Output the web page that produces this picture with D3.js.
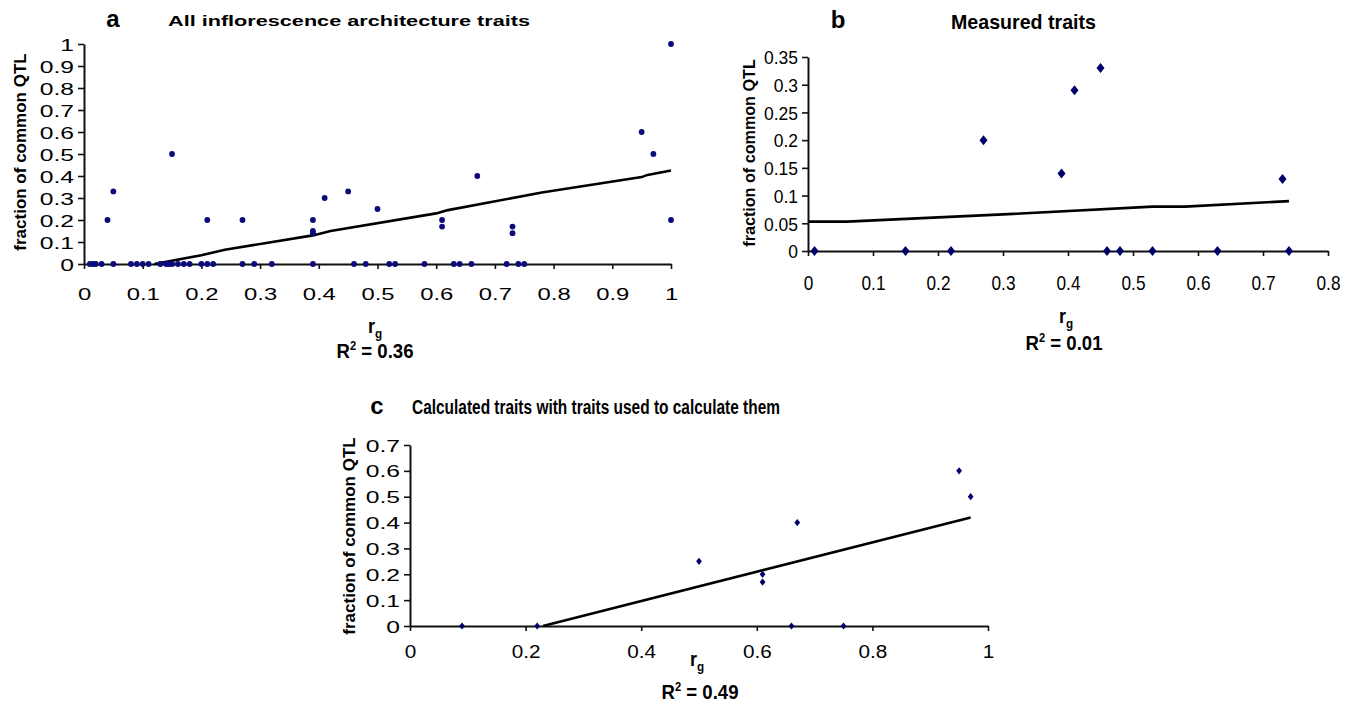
<!DOCTYPE html>
<html>
<head>
<meta charset="utf-8">
<script src="https://cdn.jsdelivr.net/npm/d3@7"></script>
<style>
  body { margin: 0; background: #fff; }
  svg { display: block; }
  text { font-family: "Liberation Sans", Arial, sans-serif; fill: #000; }
</style>
</head>
<body>
<script>
// panel a: all inflorescence architecture traits
const aRg = [0.01, 0.015, 0.02, 0.03, 0.05, 0.08, 0.09, 0.1, 0.11, 0.13, 0.14, 0.145, 0.15, 0.16, 0.17, 0.18,
  0.2, 0.21, 0.22, 0.27, 0.29, 0.32, 0.39, 0.46, 0.48, 0.52, 0.53, 0.58, 0.63, 0.64, 0.66, 0.72, 0.74, 0.75,
  0.04, 0.05, 0.15, 0.21, 0.27, 0.39, 0.39, 0.39, 0.41, 0.45, 0.5, 0.61, 0.61, 0.67, 0.73, 0.73, 0.95, 0.97, 1, 1];
const aFrac = [0, 0, 0, 0, 0, 0, 0, 0, 0, 0, 0, 0, 0, 0, 0, 0,
  0, 0, 0, 0, 0, 0, 0, 0, 0, 0, 0, 0, 0, 0, 0, 0, 0, 0,
  0.2, 0.33, 0.5, 0.2, 0.2, 0.2, 0.15, 0.14, 0.3, 0.33, 0.25, 0.2, 0.17, 0.4, 0.17, 0.14, 0.6, 0.5, 1, 0.2];
const aTrendX = [0.12, 0.2, 0.24, 0.39, 0.42, 0.6, 0.62, 0.78, 0.95, 0.96, 1.0];
const aTrendY = [0, 0.04, 0.065, 0.13, 0.15, 0.23, 0.245, 0.325, 0.395, 0.405, 0.425];
const aTicksX = [0, 0.1, 0.2, 0.3, 0.4, 0.5, 0.6, 0.7, 0.8, 0.9, 1];
const aTicksY = [0, 0.1, 0.2, 0.3, 0.4, 0.5, 0.6, 0.7, 0.8, 0.9, 1];

// panel b: measured traits
const bRg = [0.01, 0.15, 0.22, 0.27, 0.39, 0.41, 0.45, 0.46, 0.48, 0.53, 0.63, 0.73, 0.74];
const bFrac = [0, 0, 0, 0.2, 0.14, 0.29, 0.33, 0, 0, 0, 0, 0.13, 0];
const bTrendX = [0, 0.06, 0.3, 0.53, 0.58, 0.74];
const bTrendY = [0.053, 0.053, 0.066, 0.08, 0.08, 0.09];
const bTicksX = [0, 0.1, 0.2, 0.3, 0.4, 0.5, 0.6, 0.7, 0.8];
const bTicksY = [0, 0.05, 0.1, 0.15, 0.2, 0.25, 0.3, 0.35];

// panel c: calculated traits with traits used to calculate them
const cRg = [0.09, 0.22, 0.5, 0.61, 0.61, 0.66, 0.67, 0.75, 0.95, 0.97];
const cFrac = [0, 0, 0.25, 0.2, 0.17, 0, 0.4, 0, 0.6, 0.5];
const cTrendX = [0.23, 0.97];
const cTrendY = [0, 0.42];
const cTicksX = [0, 0.2, 0.4, 0.6, 0.8, 1];
const cTicksY = [0, 0.1, 0.2, 0.3, 0.4, 0.5, 0.6, 0.7];

const svg = d3.select('body').append('svg')
  .attr('width', 1350)
  .attr('height', 705);

// the source figure is stretched sideways and uses a narrow face in places,
// so squeeze / stretch text to the widths seen in it
function stretch(sel, f) {
  if (f === 1) return;
  sel.each(function() {
    const w = this.getComputedTextLength();
    d3.select(this).attr('textLength', w * f).attr('lengthAdjust', 'spacingAndGlyphs');
  });
}

function drawPanel(p) {
  const x = d3.scaleLinear().domain(p.xDomain).range([p.x0, p.x1]);
  const y = d3.scaleLinear().domain(p.yDomain).range([p.y0, p.y1]);
  const g = svg.append('g');
  const fmt = d => String(+d.toFixed(2));

  // axes
  const ax = g.append('g')
    .attr('transform', `translate(0,${p.y0})`)
    .call(d3.axisBottom(x).tickValues(p.ticksX).tickSize(5).tickSizeOuter(0).tickPadding(p.xPad).tickFormat(fmt));
  const ay = g.append('g')
    .attr('transform', `translate(${p.x0},0)`)
    .call(d3.axisLeft(y).tickValues(p.ticksY).tickSize(6).tickSizeOuter(0).tickPadding(4).tickFormat(fmt));
  [ax, ay].forEach(a => {
    a.select('.domain').attr('stroke', '#111').attr('stroke-width', 2);
    a.selectAll('.tick line').attr('stroke', '#111').attr('stroke-width', 1.6);
  });
  ax.selectAll('.tick text').style('font-size', p.xFont + 'px').attr('fill', '#000');
  ay.selectAll('.tick text').style('font-size', p.yFont + 'px').attr('fill', '#000').attr('dy', '0.36em');
  stretch(ax.selectAll('.tick text'), p.xStretch);
  stretch(ay.selectAll('.tick text'), p.yStretch);

  // trend line
  const trend = p.trendX.map((v, i) => [v, p.trendY[i]]);
  g.append('path')
    .datum(trend)
    .attr('fill', 'none')
    .attr('stroke', '#000')
    .attr('stroke-width', 2.6)
    .attr('d', d3.line().x(d => x(d[0])).y(d => y(d[1])));

  // points
  const pts = p.rg.map((v, i) => [v, p.frac[i]]);
  if (p.marker === 'circle') {
    g.selectAll('circle.pt').data(pts).join('circle')
      .attr('cx', d => x(d[0])).attr('cy', d => y(d[1]))
      .attr('r', p.size).attr('fill', '#0b0b7a');
  } else {
    g.selectAll('path.pt').data(pts).join('path')
      .attr('transform', d => `translate(${x(d[0])},${y(d[1])})`)
      .attr('d', `M0,${-p.size}L${p.size * 0.8},0L0,${p.size}L${-p.size * 0.8},0Z`)
      .attr('fill', '#00006a');
  }

  // labels
  const yt = g.append('text')
    .attr('transform', `translate(${p.yTitle[0]},${p.yTitle[1]}) rotate(-90)`)
    .attr('text-anchor', 'middle')
    .style('font-size', p.yTitleFont + 'px').style('font-weight', 'bold')
    .text('fraction of common QTL');
  stretch(yt, p.yTitleStretch);

  const rg = g.append('text')
    .attr('x', p.rgPos[0]).attr('y', p.rgPos[1])
    .attr('text-anchor', 'middle')
    .style('font-size', '20px').style('font-weight', 'bold');
  rg.append('tspan').text('r');
  rg.append('tspan').attr('dy', 5).style('font-size', '13px').text('g');
  stretch(rg, 0.9);

  const r2 = g.append('text')
    .attr('x', p.r2Pos[0]).attr('y', p.r2Pos[1])
    .attr('text-anchor', 'middle')
    .style('font-size', '20px').style('font-weight', 'bold');
  r2.append('tspan').text('R');
  r2.append('tspan').attr('dy', -8).style('font-size', '12px').text('2');
  r2.append('tspan').attr('dy', 8).text(' = ' + p.r2);
  stretch(r2, 0.93);

  g.append('text')
    .attr('x', p.letterPos[0]).attr('y', p.letterPos[1])
    .attr('text-anchor', 'middle')
    .style('font-size', '24px').style('font-weight', 'bold')
    .text(p.letter);
  g.append('text')
    .attr('x', p.titlePos[0]).attr('y', p.titlePos[1])
    .attr('textLength', p.titleLen).attr('lengthAdjust', 'spacingAndGlyphs')
    .style('font-size', p.titleFont + 'px').style('font-weight', 'bold')
    .text(p.title);
}

drawPanel({
  rg: aRg, frac: aFrac, trendX: aTrendX, trendY: aTrendY,
  ticksX: aTicksX, ticksY: aTicksY,
  xDomain: [0, 1], yDomain: [0, 1],
  x0: 84, x1: 671, y0: 264, y1: 44,
  xFont: 17, yFont: 17, xPad: 19, xStretch: 1.4, yStretch: 1.45,
  marker: 'circle', size: 2.9,
  yTitle: [26, 152], yTitleFont: 17, yTitleStretch: 1,
  rgPos: [375, 333], r2Pos: [375, 358], r2: '0.36',
  letter: 'a', letterPos: [113, 27],
  title: 'All inflorescence architecture traits', titlePos: [168, 26], titleLen: 362, titleFont: 15
});

drawPanel({
  rg: bRg, frac: bFrac, trendX: bTrendX, trendY: bTrendY,
  ticksX: bTicksX, ticksY: bTicksY,
  xDomain: [0, 0.8], yDomain: [0, 0.35],
  x0: 808, x1: 1328, y0: 251, y1: 57,
  xFont: 21, yFont: 19, xPad: 19, xStretch: 0.82, yStretch: 0.92,
  marker: 'diamond', size: 5,
  yTitle: [755, 153], yTitleFont: 17, yTitleStretch: 0.95,
  rgPos: [1066, 323], r2Pos: [1064, 350], r2: '0.01',
  letter: 'b', letterPos: [838, 28],
  title: 'Measured traits', titlePos: [951, 29], titleLen: 145, titleFont: 21
});

drawPanel({
  rg: cRg, frac: cFrac, trendX: cTrendX, trendY: cTrendY,
  ticksX: cTicksX, ticksY: cTicksY,
  xDomain: [0, 1], yDomain: [0, 0.7],
  x0: 410, x1: 988, y0: 626, y1: 445,
  xFont: 18, yFont: 17, xPad: 14, xStretch: 1.15, yStretch: 1.45,
  marker: 'diamond', size: 3.6,
  yTitle: [355, 536], yTitleFont: 17, yTitleStretch: 1,
  rgPos: [697, 666], r2Pos: [700, 699], r2: '0.49',
  letter: 'c', letterPos: [377, 414],
  title: 'Calculated traits with traits used to calculate them', titlePos: [412, 414], titleLen: 368, titleFont: 20
});
</script>
</body>
</html>
